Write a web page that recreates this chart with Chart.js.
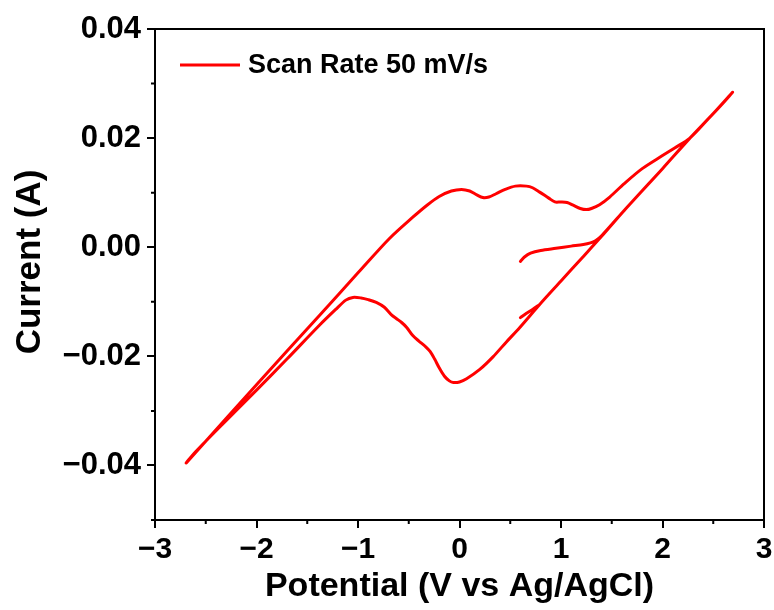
<!DOCTYPE html>
<html><head><meta charset="utf-8">
<script src="https://cdn.jsdelivr.net/npm/chart.js@4/dist/chart.umd.min.js"></script>
<style>html,body{margin:0;padding:0;background:#fff}#wrap{width:774px;height:610px}</style>
</head><body><div id="wrap"><canvas id="c" width="774" height="610"></canvas></div>
<script>
const seriesLabel = 'Scan Rate 50 mV/s';
const xTitle = 'Potential (V vs Ag/AgCl)';
const yTitle = 'Current (A)';
const xTicks = [-3, -2, -1, 0, 1, 2, 3];
const yTicks = [-0.04, -0.02, 0, 0.02, 0.04];
const xMinorTicks = [-2.5, -1.5, -0.5, 0.5, 1.5, 2.5];
const yMinorTicks = [-0.05, -0.03, -0.01, 0.01, 0.03];

// start of scan (open circuit) up to the positive vertex
const startV = [0.60, 0.64, 0.70, 0.80, 0.95, 1.10, 1.22, 1.29, 1.34, 1.40, 1.64, 2.00, 2.27, 2.50, 2.69];
const startI = [-0.0026, -0.0018, -0.0011, -0.0006, -0.0002, 0.0002, 0.0005, 0.0008, 0.0012, 0.0021, 0.0071, 0.0144, 0.0200, 0.0245, 0.0284];

// reverse scan, positive vertex to negative vertex
const reverseV = [2.60, 2.45, 2.27, 2.12, 2.00, 1.80, 1.62, 1.48, 1.38, 1.30, 1.25, 1.19, 1.12, 1.06, 1.00, 0.94, 0.88, 0.79, 0.72, 0.66, 0.55, 0.45, 0.36, 0.29, 0.23, 0.17, 0.10, 0.02, -0.08, -0.20, -0.32, -0.46, -0.69, -1.00, -1.38, -2.00, -2.69];
const reverseI = [0.0265, 0.0235, 0.0200, 0.0182, 0.0168, 0.0144, 0.0116, 0.0092, 0.0078, 0.0071, 0.0069, 0.0071, 0.0077, 0.0082, 0.0083, 0.0083, 0.0090, 0.0101, 0.0109, 0.0112, 0.0112, 0.0106, 0.0098, 0.0092, 0.0091, 0.0096, 0.0103, 0.0106, 0.0103, 0.0093, 0.0077, 0.0055, 0.0016, -0.0047, -0.0125, -0.0252, -0.0395];

// forward scan, negative vertex back up
const forwardV = [-2.60, -2.30, -2.00, -1.70, -1.38, -1.22, -1.12, -1.05, -0.97, -0.90, -0.82, -0.74, -0.67, -0.62, -0.57, -0.52, -0.46, -0.40, -0.33, -0.29, -0.245, -0.20, -0.15, -0.10, -0.06, 0.00, 0.07, 0.20, 0.33, 0.46, 0.59, 0.79, 1.00, 1.20, 1.40, 1.64, 2.00, 2.27, 2.50, 2.69];
const forwardI = [-0.0375, -0.0318, -0.0262, -0.0205, -0.0143, -0.0114, -0.0097, -0.0092, -0.0093, -0.0096, -0.0101, -0.0110, -0.0124, -0.0131, -0.0138, -0.0147, -0.0162, -0.0172, -0.0183, -0.0191, -0.0205, -0.0221, -0.0236, -0.0245, -0.0248, -0.0247, -0.0241, -0.0224, -0.0201, -0.0174, -0.0148, -0.0105, -0.0062, -0.0021, 0.0020, 0.0071, 0.0144, 0.0200, 0.0245, 0.0284];

// final tail
const endV = [0.79, 0.72, 0.66, 0.60];
const endI = [-0.0105, -0.0114, -0.0121, -0.0129];

const pts = (vs, is) => vs.map((v, k) => ({x: v, y: is[k]}));
const curve = [
  ...pts(startV, startI),
  ...pts(reverseV, reverseI),
  ...pts(forwardV, forwardI),
  {x: 0.7, y: null},
  ...pts(endV, endI)
];

const RED = '#ff0000';
const FONT = "'Liberation Sans', Arial, sans-serif";

const fmtY = v => { const s = Math.abs(v).toFixed(2); return v < -1e-9 ? '\u2212' + s : s; };
const fmtX = v => v < 0 ? '\u2212' + Math.abs(v) : String(v);

const framePlugin = {
  id: 'frame',
  afterDraw(chart) {
    const {ctx, chartArea: a, scales: {x, y}} = chart;
    ctx.save();
    ctx.strokeStyle = '#000';
    ctx.lineWidth = 2;
    ctx.strokeRect(a.left, a.top, a.right - a.left, a.bottom - a.top);
    ctx.beginPath();
    xMinorTicks.forEach(v => { const px = x.getPixelForValue(v); ctx.moveTo(px, a.bottom); ctx.lineTo(px, a.bottom + 4); });
    yMinorTicks.forEach(v => { const py = y.getPixelForValue(v); ctx.moveTo(a.left, py); ctx.lineTo(a.left - 4, py); });
    ctx.stroke();
    // legend
    const ly = a.top + 36;
    ctx.strokeStyle = RED;
    ctx.lineWidth = 3;
    ctx.beginPath();
    ctx.moveTo(a.left + 25, ly);
    ctx.lineTo(a.left + 85, ly);
    ctx.stroke();
    ctx.fillStyle = '#000';
    ctx.font = 'bold 27px ' + FONT;
    ctx.textBaseline = 'middle';
    ctx.textAlign = 'left';
    ctx.fillText(chart.data.datasets[0].label, a.left + 93, ly + 1);
    // y axis title
    ctx.save();
    ctx.translate(30, 262);
    ctx.rotate(-Math.PI / 2);
    ctx.font = 'bold 35px ' + FONT;
    ctx.textAlign = 'center';
    ctx.textBaseline = 'middle';
    ctx.fillText(yTitle, 0, 0);
    ctx.restore();
    ctx.restore();
  }
};

new Chart(document.getElementById('c'), {
  type: 'scatter',
  data: {
    datasets: [{
      label: seriesLabel,
      data: curve,
      showLine: true,
      borderColor: RED,
      backgroundColor: RED,
      borderWidth: 3,
      pointRadius: 0,
      pointHoverRadius: 0,
      pointHitRadius: 0,
      tension: 0.3,
      spanGaps: false,
      borderJoinStyle: 'round',
      borderCapStyle: 'round'
    }]
  },
  options: {
    responsive: false,
    animation: false,
    devicePixelRatio: 1,
    layout: {padding: {left: 0, right: 10, top: 29, bottom: 0}},
    plugins: {legend: {display: false}, tooltip: {enabled: false}},
    scales: {
      x: {
        type: 'linear', min: -3, max: 3,
        afterBuildTicks: s => { s.ticks = xTicks.map(v => ({value: v})); },
        afterFit: s => { s.height = 90; s.paddingLeft = 0; s.paddingRight = 0; },
        grid: {drawOnChartArea: false, drawTicks: true, tickLength: 8, color: '#000', lineWidth: 2},
        border: {display: true, color: '#000', width: 2},
        ticks: {color: '#000', font: {family: FONT, size: 30, weight: 'bold'}, padding: 4, maxRotation: 0, callback: v => fmtX(v)},
        title: {display: true, text: xTitle, color: '#000', font: {family: FONT, size: 34, weight: 'bold'}, padding: {top: 0, bottom: 3}}
      },
      y: {
        type: 'linear', min: -0.05, max: 0.04,
        afterBuildTicks: s => { s.ticks = yTicks.map(v => ({value: v})); },
        afterFit: s => { s.width = 155; s.paddingTop = 0; s.paddingBottom = 0; },
        grid: {drawOnChartArea: false, drawTicks: true, tickLength: 8, color: '#000', lineWidth: 2},
        border: {display: true, color: '#000', width: 2},
        ticks: {color: '#000', font: {family: FONT, size: 31, weight: 'bold'}, padding: 6, callback: v => fmtY(v)},
        title: {display: false}
      }
    }
  },
  plugins: [framePlugin]
});
</script>
</body></html>
